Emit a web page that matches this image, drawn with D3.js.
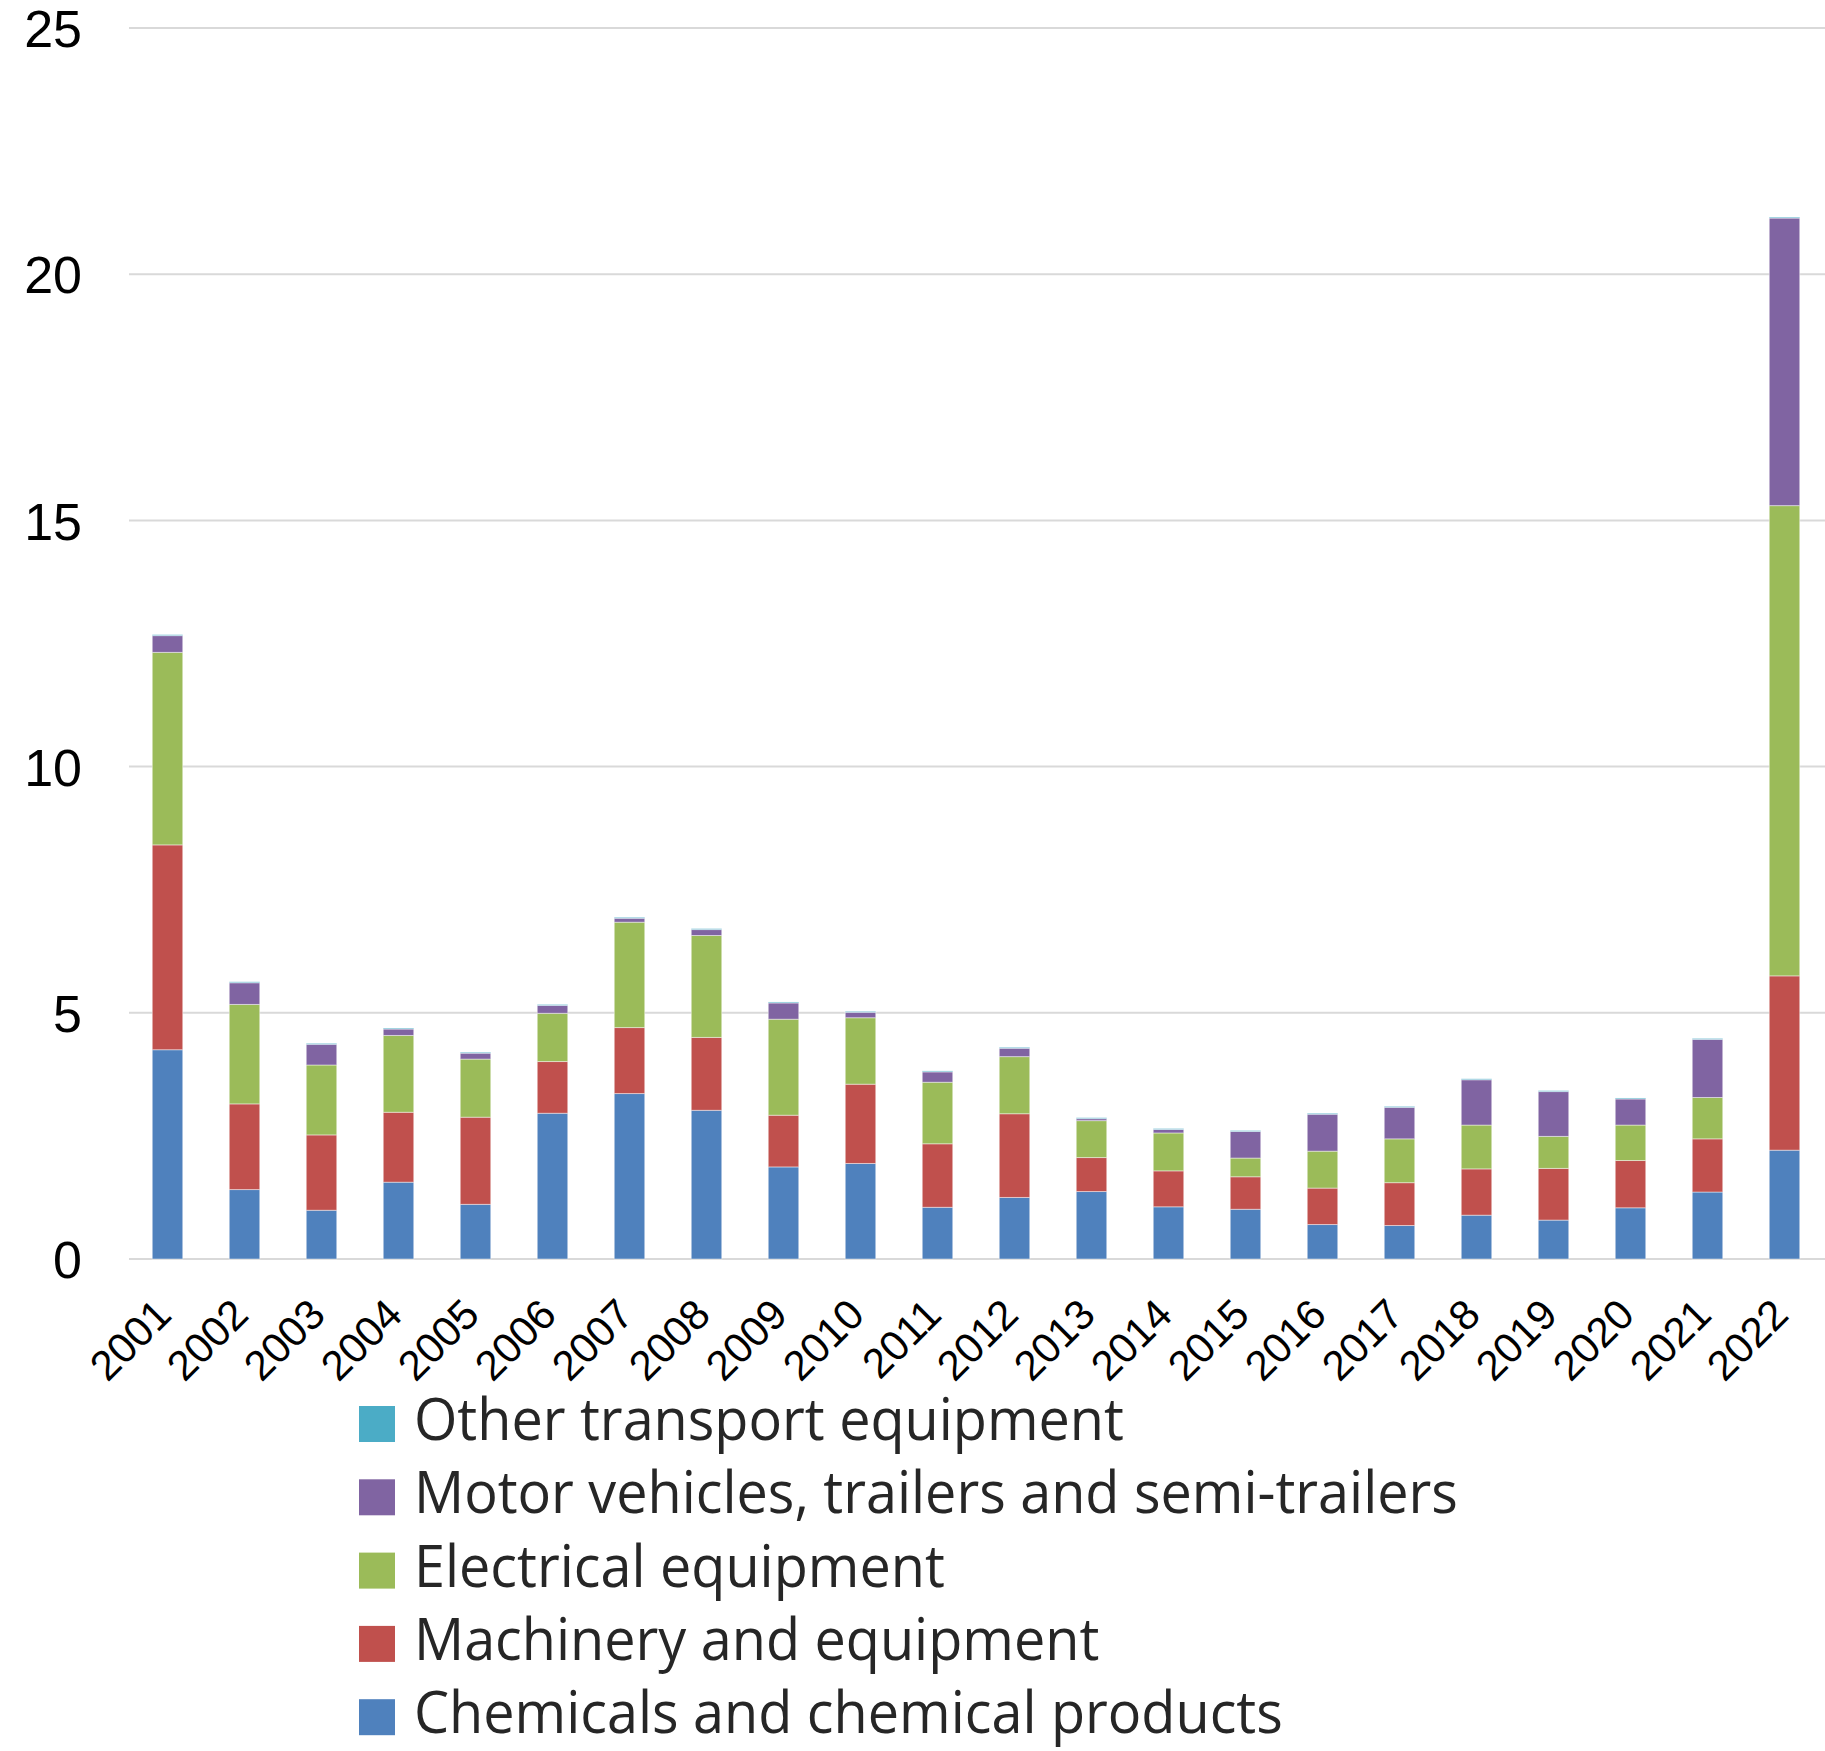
<!DOCTYPE html>
<html>
<head>
<meta charset="utf-8">
<script src="https://cdn.jsdelivr.net/npm/d3@7"></script>
<style>
  html, body { margin: 0; padding: 0; background: #ffffff; }
  svg { display: block; }
</style>
</head>
<body>
<svg id="chart" width="1825" height="1751"></svg>
<script>
// Years on the category axis
const years = ["2001","2002","2003","2004","2005","2006","2007","2008","2009","2010","2011",
               "2012","2013","2014","2015","2016","2017","2018","2019","2020","2021","2022"];

// Series values, stacked bottom to top
const chemicals   = [4.25,1.41,0.99,1.56,1.11,2.96,3.36,3.02,1.87,1.94,1.05,1.25,1.37,1.06,1.01,0.70,0.68,0.89,0.79,1.04,1.36,2.21];
const machinery   = [4.16,1.74,1.53,1.42,1.77,1.05,1.34,1.48,1.05,1.61,1.29,1.70,0.69,0.73,0.66,0.74,0.87,0.94,1.05,0.96,1.08,3.54];
const electrical  = [3.91,2.02,1.42,1.56,1.18,0.98,2.14,2.07,1.95,1.35,1.25,1.16,0.75,0.77,0.38,0.75,0.89,0.89,0.65,0.72,0.84,9.55];
const motor       = [0.34,0.44,0.42,0.13,0.12,0.16,0.08,0.12,0.33,0.11,0.21,0.17,0.04,0.07,0.54,0.75,0.64,0.92,0.91,0.53,1.18,5.84];
const otherTransp = [0.02,0.02,0.02,0.02,0.02,0.02,0.02,0.02,0.02,0.02,0.02,0.02,0.02,0.02,0.02,0.02,0.02,0.02,0.02,0.02,0.02,0.02];

// Value axis ticks
const yTicks = [0, 5, 10, 15, 20, 25];

// Series definitions (stack order) and legend labels
const seriesKeys   = ["chem", "mach", "elec", "motor", "other"];
const seriesNames  = ["Chemicals and chemical products", "Machinery and equipment",
                      "Electrical equipment", "Motor vehicles, trailers and semi-trailers",
                      "Other transport equipment"];
const seriesColors = ["#4F81BD", "#C0504D", "#9BBB59", "#8064A2", "#4BACC6"];
const seriesArrays = [chemicals, machinery, electrical, motor, otherTransp];

const rows = years.map((y, i) => {
  const r = { year: y };
  seriesKeys.forEach((k, j) => { r[k] = seriesArrays[j][i]; });
  return r;
});

const svg = d3.select("#chart");

const plot = { left: 129, right: 1823, top: 28, bottom: 1259 };

const x = d3.scaleBand()
  .domain(years)
  .range([plot.left, plot.right])
  .paddingInner(0.604)
  .paddingOuter(0.302);

const y = d3.scaleLinear()
  .domain([0, 25])
  .range([plot.bottom, plot.top]);

// Horizontal gridlines
svg.append("g")
  .selectAll("line")
  .data(yTicks)
  .join("line")
  .attr("x1", plot.left)
  .attr("x2", 1825)
  .attr("y1", d => y(d))
  .attr("y2", d => y(d))
  .attr("stroke", "#d9d9d9")
  .attr("stroke-width", 2);

// Value axis labels
const yAxis = d3.axisLeft(y).tickValues(yTicks).tickSize(0).tickPadding(0);
const yg = svg.append("g")
  .attr("transform", "translate(82,0)")
  .call(yAxis);
yg.select(".domain").remove();
yg.selectAll("text")
  .attr("font-family", "'Liberation Sans', Arial, sans-serif")
  .attr("font-size", 52)
  .attr("fill", "#000000")
  .attr("dy", "0.36em");

// Stacked bars
const stack = d3.stack().keys(seriesKeys);
const layers = stack(rows);

svg.append("g")
  .selectAll("g")
  .data(layers)
  .join("g")
  .attr("fill", (d, i) => seriesColors[i])
  .selectAll("rect")
  .data(d => d)
  .join("rect")
  .attr("x", d => x(d.data.year))
  .attr("width", x.bandwidth())
  .attr("y", d => y(d[1]))
  .attr("height", d => Math.max(0, y(d[0]) - y(d[1])))
  .attr("stroke", "#ffffff")
  .attr("stroke-opacity", 0.45)
  .attr("stroke-width", 1);

// Category axis labels, rotated
const xAxis = d3.axisBottom(x).tickSize(0).tickPadding(0);
const xg = svg.append("g")
  .attr("transform", `translate(0,${plot.bottom})`)
  .call(xAxis);
xg.select(".domain").remove();
xg.selectAll("text")
  .attr("font-family", "'Liberation Sans', Arial, sans-serif")
  .attr("font-size", 42)
  .attr("fill", "#000000")
  .attr("text-anchor", "end")
  .attr("dy", 0)
  .attr("y", 0)
  .attr("transform", "translate(6,58) rotate(-45)");

// Legend, top row is the last series
const legendOrder = seriesKeys.map((k, i) => i).reverse();
const legend = svg.append("g").attr("transform", "translate(359,1406)");
const items = legend.selectAll("g")
  .data(legendOrder)
  .join("g")
  .attr("transform", (d, i) => `translate(0,${i * 73.3})`);

items.append("rect")
  .attr("width", 36)
  .attr("height", 36)
  .attr("fill", d => seriesColors[d]);

items.append("text")
  .attr("x", 0)
  .attr("y", 0)
  .attr("transform", "translate(55,34) scale(0.945,1)")
  .attr("font-family", "'Open Sans', 'Noto Sans', sans-serif")
  .attr("font-size", 59)
  .attr("fill", "#262626")
  .text(d => seriesNames[d]);
</script>
</body>
</html>
